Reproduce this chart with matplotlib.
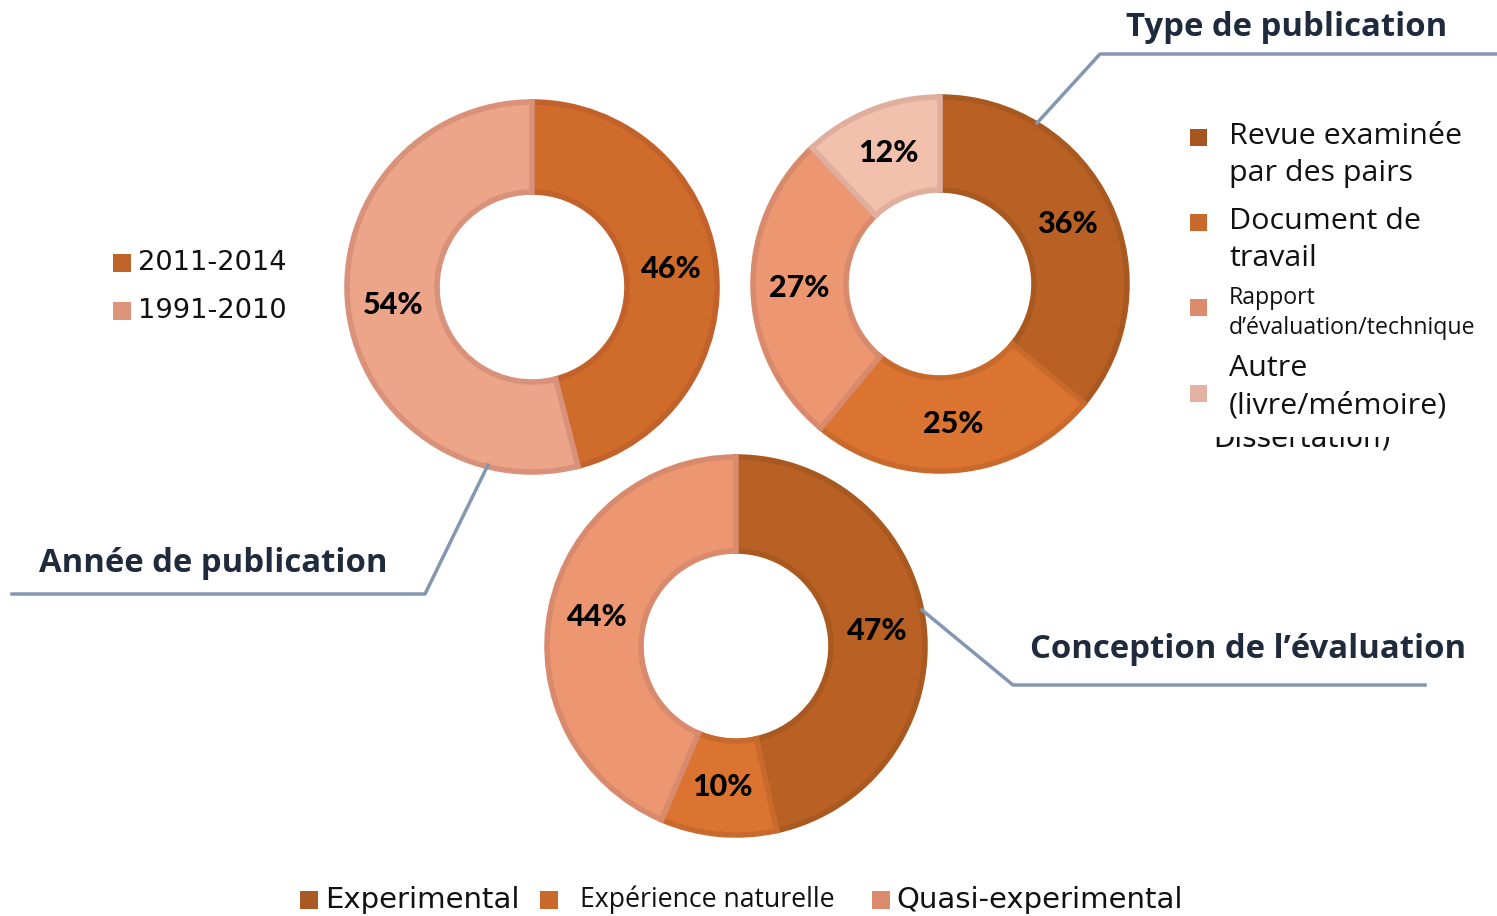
import matplotlib
matplotlib.use("Agg")
import matplotlib.pyplot as plt
from matplotlib.patches import Rectangle
import numpy as np

W, H = 1497, 916

# donut data
annee_labels = ["2011-2014", "1991-2010"]
annee_vals = [46, 54]
annee_fill = ["#CF6C2B", "#EDA58A"]
annee_edge = ["#C2622A", "#D9917A"]

type_labels = ["Revue examinée\npar des pairs", "Document de\ntravail",
               "Rapport\nd’évaluation/technique", "Autre\n(livre/mémoire)"]
type_vals = [36, 25, 27, 12]
type_fill = ["#B96124", "#DB7430", "#EC9772", "#F2C1AD"]
type_edge = ["#A95820", "#C96A2D", "#D98A6D", "#E0AE9C"]

concep_labels = ["Experimental", "Expérience naturelle", "Quasi-experimental"]
concep_vals = [47, 10, 44]
concep_fill = ["#B96124", "#DB7430", "#EC9672"]
concep_edge = ["#A95820", "#C96A2D", "#D98A6D"]

line_col = "#8497B0"
title_col = "#1F2A3C"

fig = plt.figure(figsize=(W / 100, H / 100), dpi=100)
ax = fig.add_axes([0, 0, 1, 1])


def donut(vals, fills, edges, cx, cy, r, r_in):
    wedges, _ = ax.pie(vals, colors=fills, startangle=90, counterclock=False,
                       radius=r, center=(cx, H - cy),
                       wedgeprops=dict(width=r - r_in, linewidth=4))
    for w, ec, v in zip(wedges, edges, vals):
        w.set_edgecolor(ec)
        mid = np.deg2rad((w.theta1 + w.theta2) / 2)
        rl = (r + r_in) / 2
        ax.text(cx + rl * np.cos(mid), H - cy + rl * np.sin(mid), f"{v}%",
                ha="center", va="center", fontsize=22, fontweight="black",
                family="Lato", color="black", zorder=5)


donut(annee_vals, annee_fill, annee_edge, 532, 287, 185, 95)
donut(type_vals, type_fill, type_edge, 940, 284, 187, 94)
donut(concep_vals, concep_fill, concep_edge, 736, 646, 189, 95)

ax.set_xlim(0, W)
ax.set_ylim(0, H)
ax.set_aspect("equal")
ax.axis("off")

# leader lines + titles
ax.plot([1037, 1100, 1497], [H - 123, H - 54, H - 54], color=line_col, lw=2.5)
ax.plot([488, 425, 12], [H - 465, H - 594, H - 594], color=line_col, lw=2.5)
ax.plot([922, 1013, 1425], [H - 610, H - 685, H - 685], color=line_col, lw=2.5)

tfont = dict(family="Open Sans", fontweight="bold", fontsize=23.7, color=title_col,
             va="center", ha="left")
ax.text(1126, H - 27, "Type de publication", **tfont)
ax.text(39, H - 564, "Année de publication", **tfont)
ax.text(1030, H - 649, "Conception de l’évaluation", **tfont)

# left legend
for i, (lab, c) in enumerate(zip(annee_labels, ["#C0652A", "#DC957A"])):
    y = 263 + i * 48
    ax.add_patch(Rectangle((113, H - y - 9), 18, 18, color=c, lw=0))
    ax.text(138, H - y, lab, fontsize=19.6, family="DejaVu Sans", color="#111111",
            va="center", ha="left")

# right legend
sq_cols = ["#A8561F", "#C9692A", "#DC8C6C", "#E3B2A0"]
sq_y = [137, 222, 307, 393]
txt_y = [155, 240, 313, 387]
sizes = [21.9, 21.9, 16.7, 21.9]
spacing = [1.38, 1.38, 1.3, 1.38]
for lab, c, sy, ty, fs, sp in zip(type_labels, sq_cols, sq_y, txt_y, sizes, spacing):
    ax.add_patch(Rectangle((1190, H - sy - 8.5), 17, 17, color=c, lw=0, zorder=4))
    ax.text(1229, H - ty, lab, fontsize=fs, family="Open Sans", color="#111111",
            va="center", ha="left", linespacing=sp, zorder=4)

# leftover text partly hidden under the legend
ax.text(1213, H - 446, "Dissertation)", fontsize=20, family="DejaVu Sans",
        color="#111111", va="baseline", ha="left", zorder=2)
ax.add_patch(Rectangle((1200, H - 437), 260, 47, color="white", lw=0, zorder=3))

# bottom legend
bl_x = [300, 540, 872]
bl_tx = [325, 580, 896]
bl_cols = ["#A95A24", "#C9692A", "#DC8C6C"]
bl_font = [("DejaVu Sans", 21), ("Open Sans", 19.2), ("DejaVu Sans", 21)]
for lab, x, tx, c, (fam, fs) in zip(concep_labels, bl_x, bl_tx, bl_cols, bl_font):
    ax.add_patch(Rectangle((x, H - 909), 18, 18, color=c, lw=0))
    ax.text(tx, H - 900, lab, fontsize=fs, family=fam, color="#111111",
            va="center", ha="left")

fig.savefig("out.png", dpi=100)
